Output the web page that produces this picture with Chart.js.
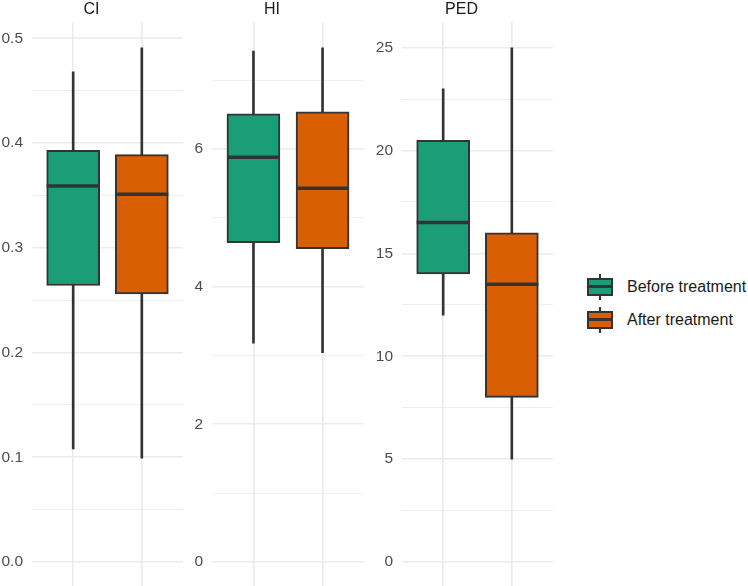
<!DOCTYPE html>
<html>
<head>
<meta charset="utf-8">
<script src="https://cdn.jsdelivr.net/npm/chart.js@4.4.0/dist/chart.umd.min.js"></script>
<style>
  body { margin: 0; background: #fff; font-family: "Liberation Sans", Arial, sans-serif; }
  #wrap { position: relative; width: 748px; height: 586px; overflow: hidden; }
  .panel { position: absolute; top: 0; height: 606px; }
  .legend { position: absolute; left: 586px; top: 270px; }
  .legend-item { position: relative; height: 33px; }
  .legend-key { position: absolute; left: 1px; top: 4px; width: 26px; height: 26px; }
  .legend-key .whisker { position: absolute; left: 12px; top: 0; width: 2px; height: 26px; background: #333; }
  .legend-key .box { position: absolute; left: 0; top: 4px; width: 22px; height: 14px; border: 2px solid #333; }
  .legend-key .median { position: absolute; left: 0; top: 11px; width: 26px; height: 3px; background: #333; }
  .legend-label { position: absolute; left: 41px; top: 8px; font-size: 16px; color: #1a1a1a; white-space: nowrap; }
</style>
</head>
<body>
<div id="wrap">
  <canvas id="chart-ci" class="panel" style="left:0px" width="215" height="606"></canvas>
  <canvas id="chart-hi" class="panel" style="left:180px" width="216" height="606"></canvas>
  <canvas id="chart-ped" class="panel" style="left:370px" width="215" height="606"></canvas>
  <div class="legend" id="legend"></div>
</div>
<script>
// ===== DATA =====
const groups = ['Before treatment', 'After treatment'];
const groupColors = ['#1B9E77', '#D95F02'];
const groupPos = [1, 2];

// CI
const ciMin = [0.108, 0.099];
const ciQ1  = [0.264, 0.256];
const ciMed = [0.359, 0.351];
const ciQ3  = [0.393, 0.389];
const ciMax = [0.468, 0.491];
const ciTicks  = [0, 0.1, 0.2, 0.3, 0.4, 0.5];
const ciLabels = ['0.0', '0.1', '0.2', '0.3', '0.4', '0.5'];
const ciMinor  = [0.05, 0.15, 0.25, 0.35, 0.45];

// HI
const hiMin = [3.18, 3.04];
const hiQ1  = [4.64, 4.55];
const hiMed = [5.88, 5.43];
const hiQ3  = [6.51, 6.54];
const hiMax = [7.42, 7.47];
const hiTicks  = [0, 2, 4, 6];
const hiLabels = ['0', '2', '4', '6'];
const hiMinor  = [1, 3, 5, 7];

// PED
const pedMin = [12, 5];
const pedQ1  = [14, 8];
const pedMed = [16.5, 13.5];
const pedQ3  = [20.5, 16];
const pedMax = [23, 25];
const pedTicks  = [0, 5, 10, 15, 20, 25];
const pedLabels = ['0', '5', '10', '15', '20', '25'];
const pedMinor  = [2.5, 7.5, 12.5, 17.5, 22.5];

const GRID = '#EBEBEB';
const INK = '#333333';

// draws the median bar across each box, using the y scale
const medianPlugin = {
  id: 'median',
  afterDatasetsDraw(chart) {
    const meta = chart.getDatasetMeta(1);
    const med = chart.config.options.plugins.median.values;
    const y = chart.scales.y;
    const ctx = chart.ctx;
    ctx.save();
    ctx.strokeStyle = INK;
    ctx.lineWidth = 3.5;
    meta.data.forEach((bar, i) => {
      const py = y.getPixelForValue(med[i]);
      ctx.beginPath();
      ctx.moveTo(bar.x - bar.width / 2, py);
      ctx.lineTo(bar.x + bar.width / 2, py);
      ctx.stroke();
    });
    ctx.restore();
  }
};

function makePanel(canvasId, title, mins, q1, med, q3, maxs, ticks, labels, minor) {
  const top = Math.max(...maxs);
  new Chart(document.getElementById(canvasId), {
    type: 'bar',
    data: {
      datasets: [
        {
          label: 'whisker',
          data: groupPos.map((x, i) => ({ x, y: [mins[i], maxs[i]] })),
          backgroundColor: INK,
          barThickness: 2,
          grouped: false,
          order: 2
        },
        {
          label: 'box',
          data: groupPos.map((x, i) => ({ x, y: [q1[i], q3[i]] })),
          backgroundColor: groupColors,
          borderColor: INK,
          borderWidth: 2,
          borderSkipped: false,
          barThickness: 53,
          grouped: false,
          order: 1
        }
      ]
    },
    options: {
      responsive: false,
      animation: false,
      layout: { padding: { left: 0, right: 32, top: 0, bottom: 0 } },
      plugins: {
        legend: { display: false },
        tooltip: { enabled: false },
        title: {
          display: true, text: title, color: '#1A1A1A',
          font: { family: 'Liberation Sans', size: 16, weight: 'normal', lineHeight: 1 },
          padding: { top: 1.5, bottom: 4.5 }
        },
        median: { values: med }
      },
      scales: {
        x: {
          type: 'linear', min: 0.4, max: 2.6, offset: false,
          border: { display: false },
          grid: { color: GRID, lineWidth: 1.6, drawTicks: false, offset: false },
          ticks: { display: false },
          afterBuildTicks: s => { s.ticks = groupPos.map(v => ({ value: v })); },
          afterFit: s => { s.height = 0; }
        },
        y: {
          type: 'linear', min: -0.05 * top, max: 1.05 * top,
          border: { display: false },
          grid: {
            color: GRID, drawTicks: false,
            lineWidth: c => (minor.includes(c.tick.value) ? 0.8 : 1.6)
          },
          ticks: {
            padding: 9, color: '#4D4D4D', autoSkip: false,
            font: { family: 'Liberation Sans', size: 15.5 },
            callback: v => { const k = ticks.indexOf(v); return k >= 0 ? labels[k] : ''; }
          },
          afterBuildTicks: s => {
            s.ticks = ticks.concat(minor).sort((a, b) => a - b).map(v => ({ value: v }));
          },
          afterFit: s => { s.width = 32; }
        }
      }
    },
    plugins: [medianPlugin]
  });
}

makePanel('chart-ci', 'CI', ciMin, ciQ1, ciMed, ciQ3, ciMax, ciTicks, ciLabels, ciMinor);
makePanel('chart-hi', 'HI', hiMin, hiQ1, hiMed, hiQ3, hiMax, hiTicks, hiLabels, hiMinor);
makePanel('chart-ped', 'PED', pedMin, pedQ1, pedMed, pedQ3, pedMax, pedTicks, pedLabels, pedMinor);

// Custom legend
document.getElementById('legend').innerHTML = groups.map((g, i) =>
  `<div class="legend-item">
    <div class="legend-key">
      <div class="whisker"></div>
      <div class="box" style="background:${groupColors[i]}"></div>
      <div class="median"></div>
    </div>
    <span class="legend-label">${g}</span>
  </div>`
).join('');
</script>
</body>
</html>
